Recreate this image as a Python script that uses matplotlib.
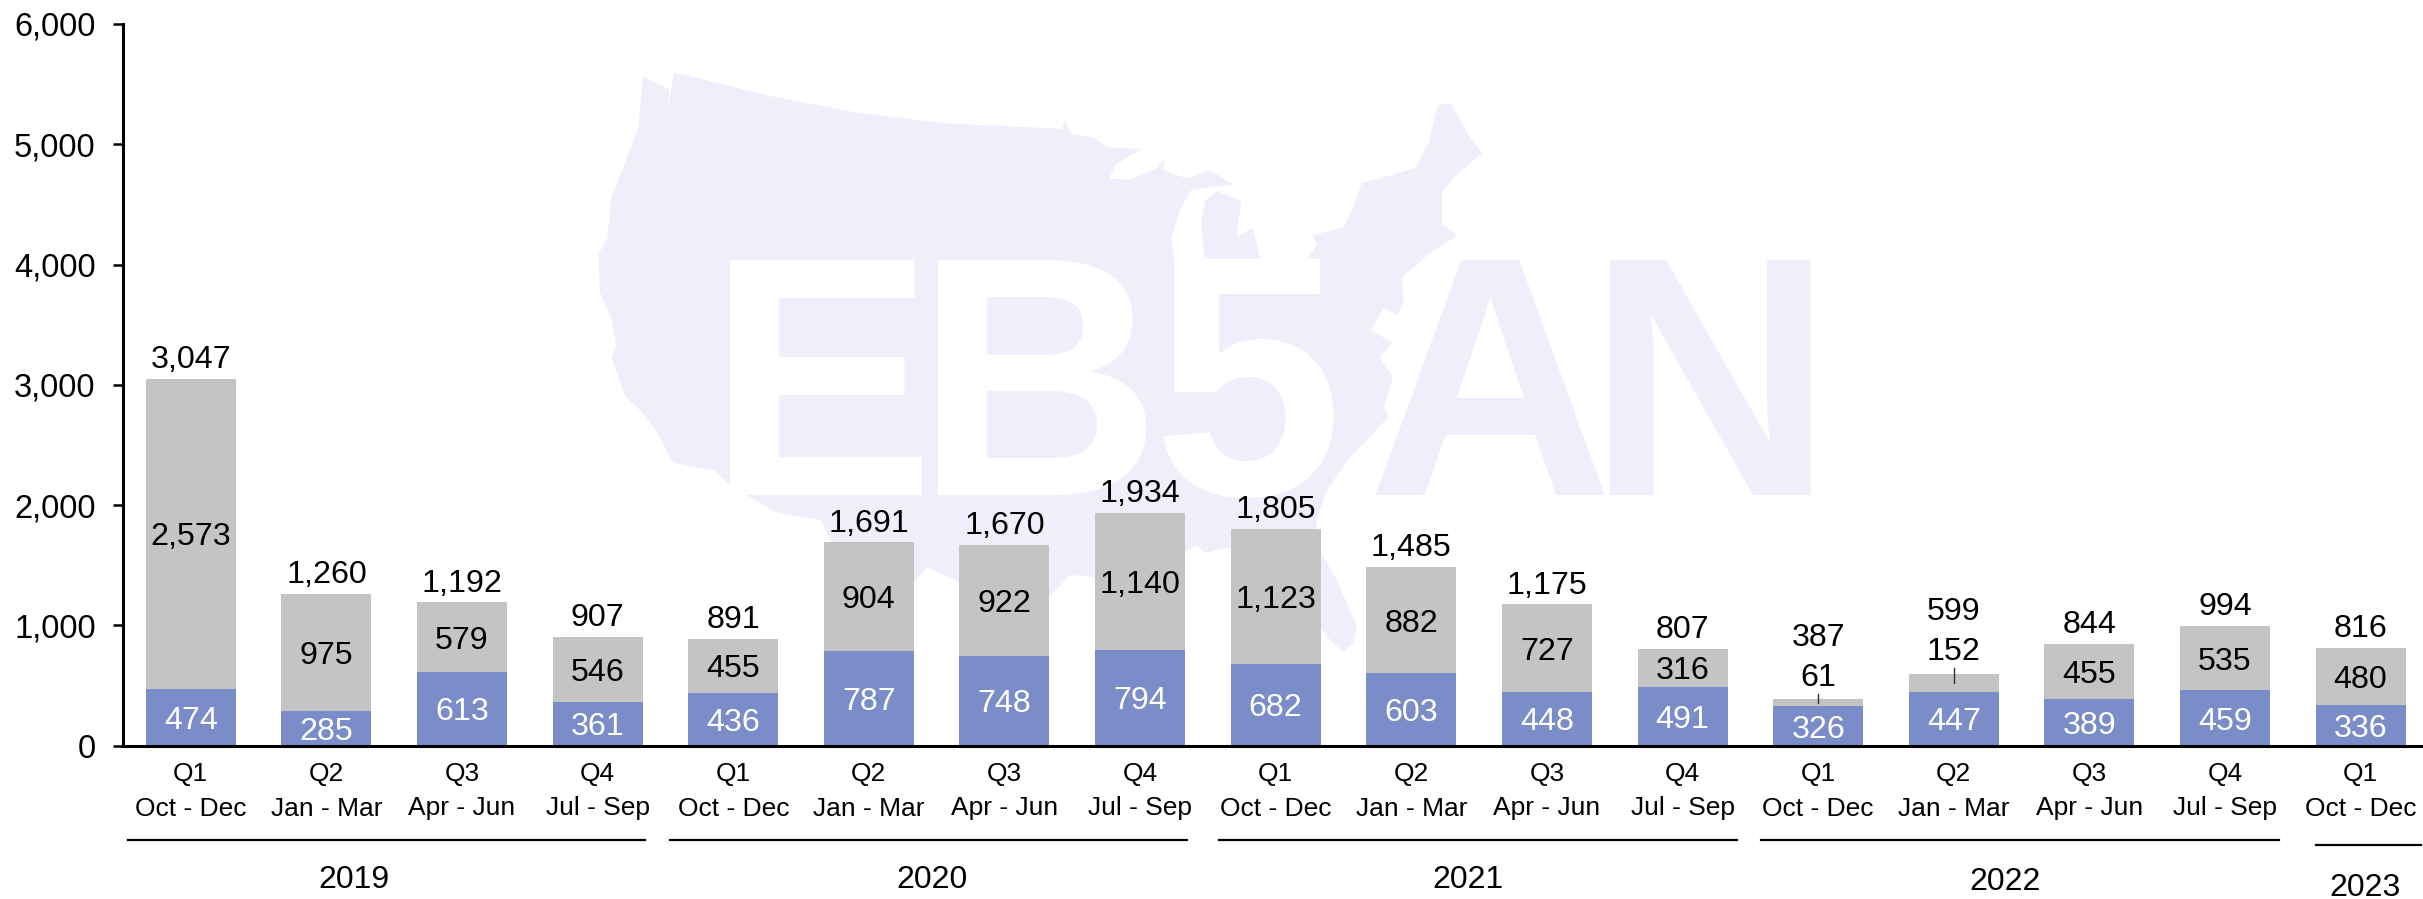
import matplotlib
matplotlib.use("Agg")
import matplotlib.pyplot as plt
from matplotlib.patches import Polygon
from matplotlib.transforms import Affine2D, blended_transform_factory
from matplotlib.ticker import FuncFormatter

plt.rcParams['font.family'] = ['Liberation Sans', 'DejaVu Sans']

quarters = ["Q1", "Q2", "Q3", "Q4", "Q1", "Q2", "Q3", "Q4", "Q1", "Q2", "Q3", "Q4",
            "Q1", "Q2", "Q3", "Q4", "Q1"]
months = ["Oct - Dec", "Jan - Mar", "Apr - Jun", "Jul - Sep"] * 4 + ["Oct - Dec"]
lower = [474, 285, 613, 361, 436, 787, 748, 794, 682, 603, 448, 491, 326, 447, 389, 459, 336]
upper = [2573, 975, 579, 546, 455, 904, 922, 1140, 1123, 882, 727, 316, 61, 152, 455, 535, 480]
totals = [3047, 1260, 1192, 907, 891, 1691, 1670, 1934, 1805, 1485, 1175, 807, 387, 599, 844, 994, 816]
years = ["2019", "2020", "2021", "2022", "2023"]

W, H = 2423, 899
BLUE, GREY, MAP = "#7A8DC8", "#C4C4C4", "#EFEFFB"
fig = plt.figure(figsize=(W / 100, H / 100), dpi=100, facecolor="white")
px = Affine2D().scale(1 / W, -1 / H).translate(0, 1) + fig.transFigure

# Watermark outline, traced in pixels of the reference
north = [(160, 95), (190, 130), (188, 180), (195, 85), (300, 145), (400, 190), (500, 218),
         (630, 232), (632, 210), (640, 245), (665, 255), (680, 280), (718, 285), (690, 325),
         (682, 362), (705, 365), (735, 335), (745, 310), (742, 340), (770, 362), (795, 340),
         (822, 378), (775, 390), (762, 440), (752, 520), (755, 580), (790, 580), (785, 480),
         (790, 420), (803, 395), (830, 420), (825, 515), (843, 490), (852, 575), (903, 575),
         (915, 535), (910, 510), (945, 490), (955, 440), (965, 375), (1025, 335), (1040, 270),
         (1050, 170), (1065, 165), (1085, 250), (1100, 295), (1075, 345), (1055, 395),
         (1055, 480), (1072, 510), (1040, 560), (1010, 620), (1012, 680), (1005, 720),
         (990, 700), (975, 760), (1000, 790), (985, 830), (1000, 880), (990, 960),
         (995, 985), (965, 1060)]
outline = [(500 + x / 1.12, 40 + y / 2.613) for x, y in north]
outline += [(1350, 457), (1327, 490), (1316, 520), (1321, 553), (1337, 580), (1357, 627),
            (1353, 643), (1343, 652), (1330, 640), (1300, 600), (1270, 560), (1230, 547),
            (1205, 553), (1197, 545), (1185, 552), (1095, 577), (1070, 575), (1049, 597),
            (1000, 600), (959, 582), (927, 567), (914, 583), (880, 650), (860, 600),
            (821, 520), (775, 512), (750, 497), (727, 482), (714, 470), (673, 463)]
west = [(175, 1020), (160, 975), (140, 930), (125, 830), (130, 800), (125, 730), (112, 660),
        (110, 560), (120, 520), (125, 410), (155, 230)]
outline += [(500 + x / 1.12, 40 + y / 2.613) for x, y in west]
fig.add_artist(Polygon(outline, closed=True, facecolor=MAP, edgecolor="none", transform=px, zorder=0))

logo = dict(transform=px, fontsize=246, fontweight="bold", ha="left", va="baseline", zorder=1)
for s, x, c in [("E", 706, "white"), ("B", 914, "white"), ("5", 1152, "white"),
                ("A", 1366, MAP), ("N", 1586, MAP)]:
    fig.text(x, 495, s, color=c, **logo)

ax = fig.add_axes([123 / W, (H - 745.7) / H, 1 - 123 / W, 721.8 / H], zorder=2)
ax.patch.set_alpha(0)
step = 135.6
ax.set_xlim(-0.5, (W - 191) / step)
ax.set_ylim(0, 6000)

x = list(range(len(lower)))
ax.bar(x, lower, width=90 / step, color=BLUE, zorder=2)
ax.bar(x, upper, width=90 / step, bottom=lower, color=GREY, zorder=2)

for s in ("top", "right"):
    ax.spines[s].set_visible(False)
for s in ("left", "bottom"):
    ax.spines[s].set_linewidth(2.2)
    ax.spines[s].set_zorder(3)
ax.set_xticks([])
ax.set_yticks(range(0, 6001, 1000))
ax.yaxis.set_major_formatter(FuncFormatter(lambda v, _: f"{int(v):,}"))
ax.tick_params(axis="y", length=7.2, width=1.8, pad=12.5, labelsize=23.5)

bx = blended_transform_factory(ax.transData, px)
moved = {12: 674, 13: 648}
moved_total = {12: 634, 13: 609}
leaders = {12: (694, 703), 13: (668, 683)}
LS = 23.2
for i in x:
    ax.text(i, lower[i] / 2, f"{lower[i]:,}", ha="center", va="center_baseline",
            color="white", fontsize=LS, zorder=4)
    if i in moved:
        ax.text(i, moved[i], f"{upper[i]:,}", transform=bx, ha="center", va="center_baseline",
                color="black", fontsize=LS, zorder=4)
        ax.text(i, moved_total[i], f"{totals[i]:,}", transform=bx, ha="center", va="center_baseline",
                color="black", fontsize=LS, zorder=4)
        ax.plot([i, i], leaders[i], transform=bx, color="#333333", lw=1, zorder=4)
    else:
        ax.text(i, lower[i] + upper[i] / 2, f"{upper[i]:,}", ha="center", va="center_baseline",
                color="black", fontsize=LS, zorder=4)
        ax.annotate(f"{totals[i]:,}", (i, totals[i]), xytext=(0, 16), textcoords="offset points",
                    ha="center", va="center_baseline", color="black", fontsize=LS, zorder=4)
    ax.text(i, 771, quarters[i], transform=bx, ha="center", va="center_baseline", fontsize=19,
            clip_on=False)
    ax.text(i, 806, months[i], transform=bx, ha="center", va="center_baseline", fontsize=19,
            clip_on=False)

spans = [(127.5, 645, 840), (670, 1187, 840), (1219, 1737, 840), (1761, 2279, 840), (2316, 2421, 845)]
label_pos = [(354, 877), (932, 877), (1468, 877), (2005, 878), (2365, 884)]
for (a, b, y), (tx, ty), yr in zip(spans, label_pos, years):
    fig.add_artist(plt.Line2D([a, b], [y, y], color="black", lw=1.6, transform=px, zorder=3))
    fig.text(tx, ty, yr, transform=px, ha="center", va="center_baseline", fontsize=23, zorder=3)

fig.savefig("out.png", dpi=100)
